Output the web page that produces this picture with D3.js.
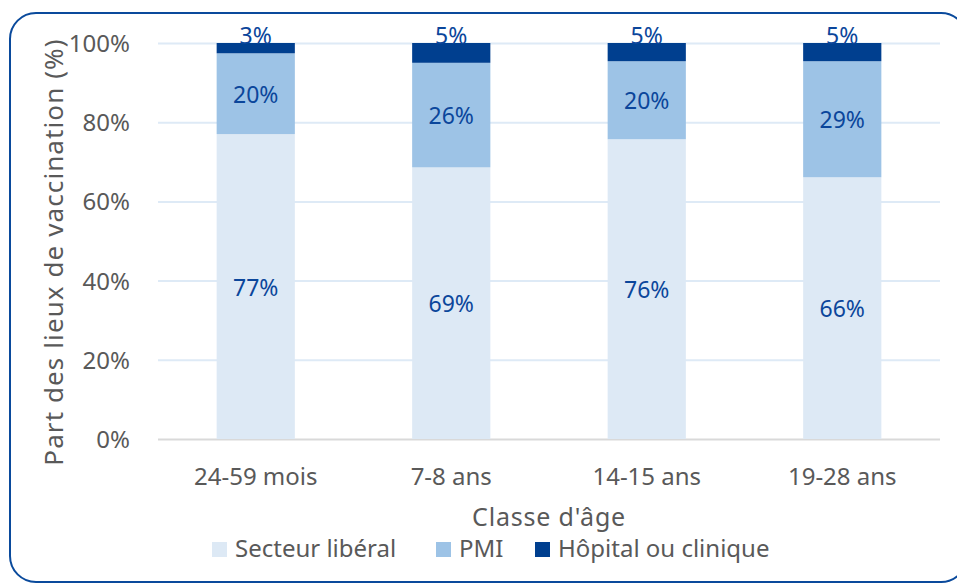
<!DOCTYPE html>
<html>
<head>
<meta charset="utf-8">
<script src="https://cdn.jsdelivr.net/npm/d3@7"></script>
<style>
    body { margin: 0; background: #fff; }
    text { font-family: "Noto Sans", sans-serif; }
</style>
</head>
<body>
<svg id="chart" width="957" height="584"></svg>
<script>
// age classes (x axis)
const categories = ['24-59 mois', '7-8 ans', '14-15 ans', '19-28 ans'];

// share of each vaccination place, in %
const liberal = [77.0, 68.6, 75.7, 66.1];
const pmi = [20.4, 26.4, 19.7, 29.3];
const hospital = [2.6, 5.0, 4.6, 4.6];

const seriesNames = ['Secteur libéral', 'PMI', 'Hôpital ou clinique'];
const seriesColors = ['#dde9f5', '#9dc3e6', '#003f8f'];
const yTicks = [0, 20, 40, 60, 80, 100];

class StackedBarChart {
    constructor() {
        this.svg = d3.select('#chart');
        this.margin = { left: 158, right: 17, top: 43, bottom: 145 };
        this.width = 957 - this.margin.left - this.margin.right;
        this.height = 584 - this.margin.top - this.margin.bottom;
        this.initChart();
        this.drawBars();
        this.drawLegend();
    }

    initChart() {
        // rounded frame around the whole chart
        this.svg.append('rect')
            .attr('x', 10).attr('y', 13)
            .attr('width', 957).attr('height', 569)
            .attr('rx', 26)
            .attr('fill', 'none')
            .attr('stroke', '#0a4a9c')
            .attr('stroke-width', 2);

        this.g = this.svg.append('g')
            .attr('transform', `translate(${this.margin.left},${this.margin.top})`);

        this.x = d3.scaleBand()
            .domain(categories)
            .range([0, this.width])
            .paddingInner(0.6)
            .paddingOuter(0.3);

        this.y = d3.scaleLinear()
            .domain([0, 100])
            .range([this.height, 0]);

        // gridlines
        const yAxis = d3.axisLeft(this.y)
            .tickValues(yTicks)
            .tickSize(-this.width)
            .tickPadding(28)
            .tickFormat(d => d + '%');

        const ga = this.g.append('g').call(yAxis);
        ga.select('.domain').remove();
        ga.selectAll('line')
            .attr('stroke', d => d === 0 ? '#d9d9d9' : '#deeaf6')
            .attr('stroke-width', 2);
        ga.selectAll('text')
            .attr('fill', '#595959')
            .attr('font-size', 24)
            .attr('dy', '0.35em');

        // x axis labels
        const xAxis = d3.axisBottom(this.x).tickSize(0).tickPadding(0);
        const gx = this.g.append('g')
            .attr('transform', `translate(0,${this.height})`)
            .call(xAxis);
        gx.select('.domain').remove();
        gx.selectAll('text')
            .attr('fill', '#595959')
            .attr('font-size', 24)
            .attr('dy', 46);

        // axis titles
        this.svg.append('text')
            .attr('x', this.margin.left + this.width / 2)
            .attr('y', 526)
            .attr('text-anchor', 'middle')
            .attr('fill', '#595959')
            .attr('font-size', 25)
            .attr('letter-spacing', 0.8)
            .text("Classe d'âge");

        this.svg.append('text')
            .attr('transform', 'translate(63,252) rotate(-90)')
            .attr('text-anchor', 'middle')
            .attr('fill', '#595959')
            .attr('font-size', 26)
            .attr('letter-spacing', 1.1)
            .text('Part des lieux de vaccination (%)');
    }

    drawBars() {
        const rows = categories.map((c, i) => ({
            cat: c, s0: liberal[i], s1: pmi[i], s2: hospital[i]
        }));
        const stack = d3.stack().keys(['s0', 's1', 's2'])(rows);

        const layers = this.g.selectAll('.layer')
            .data(stack)
            .join('g')
            .attr('class', 'layer')
            .attr('fill', (d, i) => seriesColors[i]);

        layers.selectAll('rect')
            .data(d => d)
            .join('rect')
            .attr('x', d => this.x(d.data.cat))
            .attr('width', this.x.bandwidth())
            .attr('y', d => this.y(d[1]))
            .attr('height', d => this.y(d[0]) - this.y(d[1]));

        // data labels
        layers.each((layer, li, nodes) => {
            d3.select(nodes[li]).selectAll('.lbl')
                .data(layer)
                .join('text')
                .attr('class', 'lbl')
                .attr('x', d => this.x(d.data.cat) + this.x.bandwidth() / 2)
                .attr('y', d => li === 2
                    ? this.y(d[1]) + 1
                    : (this.y(d[0]) + this.y(d[1])) / 2 + 9)
                .attr('text-anchor', 'middle')
                .attr('fill', '#0b469b')
                .attr('font-size', 23)
                .text(d => Math.round(d[1] - d[0]) + '%');
        });
    }

    drawLegend() {
        const legendX = [212, 436, 535];
        const lg = this.svg.selectAll('.legend')
            .data(seriesNames)
            .join('g')
            .attr('class', 'legend')
            .attr('transform', (d, i) => `translate(${legendX[i]},542)`);

        lg.append('rect')
            .attr('width', 15).attr('height', 15)
            .attr('fill', (d, i) => seriesColors[i]);

        lg.append('text')
            .attr('x', 23).attr('y', 14.5)
            .attr('fill', '#595959')
            .attr('font-size', 24)
            .text(d => d);
    }
}

new StackedBarChart();
</script>
</body>
</html>
